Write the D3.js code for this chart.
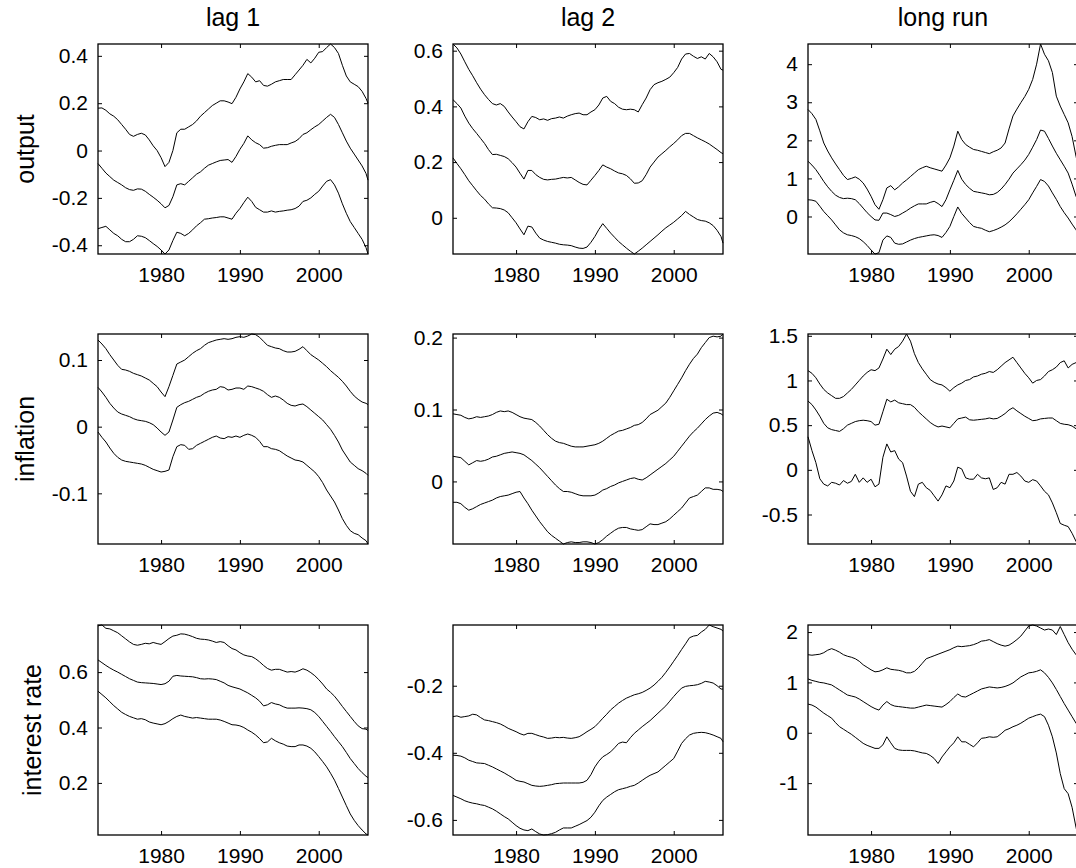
<!DOCTYPE html>
<html>
<head>
<meta charset="utf-8">
<script src="https://cdn.jsdelivr.net/npm/d3@7"></script>
<style>
  body { margin: 0; background: #fff; }
  svg { display: block; font-family: "Liberation Sans", Arial, sans-serif; }
</style>
</head>
<body>
<svg id="chart" width="1076" height="868"></svg>
<script>
// panel names
var rowNames = ["output", "inflation", "interest rate"];
var colNames = ["lag 1", "lag 2", "long run"];

// half-year grid, last point 2006Q2
var dates = d3.range(1972, 2006.5, 0.5).concat([2006.25]);
var xTicks = [1980, 1990, 2000];

// tick labels of each panel (row by row)
var yTicks = [
  [[-0.4, -0.2, 0, 0.2, 0.4], [0, 0.2, 0.4, 0.6], [0, 1, 2, 3, 4]],
  [[-0.1, 0, 0.1], [0, 0.1, 0.2], [-0.5, 0, 0.5, 1, 1.5]],
  [[0.2, 0.4, 0.6], [-0.6, -0.4, -0.2], [-1, 0, 1, 2]]
];

// output, lag 1
var outLag1Up = [0.179, 0.18, 0.17, 0.155, 0.145, 0.13, 0.11, 0.09, 0.068, 0.06,
  0.068, 0.073, 0.066, 0.045, 0.02, 0.0, -0.03, -0.068, -0.05, 0.0,
  0.075, 0.09, 0.09, 0.1, 0.11, 0.125, 0.145, 0.16, 0.175, 0.19,
  0.2, 0.21, 0.21, 0.205, 0.198, 0.225, 0.26, 0.29, 0.325, 0.31,
  0.29, 0.295, 0.275, 0.272, 0.28, 0.29, 0.295, 0.3, 0.3, 0.3,
  0.32, 0.34, 0.36, 0.385, 0.37, 0.39, 0.415, 0.418, 0.435, 0.45,
  0.435, 0.41, 0.36, 0.315, 0.29, 0.28, 0.27, 0.25, 0.22, 0.2];
var outLag1Mid = [-0.055, -0.075, -0.095, -0.11, -0.125, -0.135, -0.145, -0.157, -0.165, -0.168,
  -0.162, -0.163, -0.172, -0.185, -0.197, -0.21, -0.225, -0.242, -0.232, -0.195,
  -0.145, -0.14, -0.145, -0.13, -0.115, -0.1, -0.09, -0.075, -0.062, -0.055,
  -0.048, -0.042, -0.04, -0.038, -0.05, -0.025, 0.005, 0.03, 0.062, 0.045,
  0.033, 0.025, 0.01, 0.012, 0.018, 0.022, 0.025, 0.025, 0.025, 0.032,
  0.038, 0.05, 0.068, 0.075, 0.088, 0.1, 0.11, 0.125, 0.14, 0.153,
  0.14, 0.11, 0.075, 0.04, 0.01, -0.015, -0.04, -0.065, -0.097, -0.125];
var outLag1Low = [-0.33, -0.325, -0.32, -0.335, -0.35, -0.36, -0.375, -0.385, -0.385, -0.375,
  -0.36, -0.362, -0.368, -0.38, -0.393, -0.405, -0.42, -0.437, -0.42, -0.38,
  -0.345, -0.35, -0.36, -0.35, -0.335, -0.318, -0.305, -0.29, -0.288, -0.285,
  -0.283, -0.28, -0.28, -0.285, -0.29, -0.265, -0.245, -0.22, -0.197, -0.215,
  -0.24, -0.25, -0.26, -0.26, -0.255, -0.26, -0.257, -0.255, -0.252, -0.25,
  -0.245, -0.235, -0.215, -0.21, -0.2, -0.185, -0.172, -0.15, -0.13, -0.123,
  -0.145, -0.18, -0.225, -0.265, -0.3, -0.325, -0.35, -0.375, -0.41, -0.437];

// output, lag 2
var outLag2Up = [0.624, 0.61, 0.588, 0.56, 0.533, 0.51, 0.485, 0.462, 0.442, 0.425,
  0.41, 0.405, 0.41, 0.4, 0.38, 0.362, 0.345, 0.327, 0.319, 0.345,
  0.364, 0.36, 0.352, 0.355, 0.35, 0.356, 0.358, 0.362, 0.358, 0.365,
  0.37, 0.374, 0.376, 0.37, 0.37, 0.38, 0.388, 0.405, 0.43, 0.436,
  0.418, 0.41, 0.397, 0.39, 0.388, 0.39, 0.388, 0.38, 0.406, 0.43,
  0.46, 0.478, 0.485, 0.49, 0.497, 0.505, 0.521, 0.54, 0.57, 0.588,
  0.59, 0.58, 0.572, 0.578, 0.57, 0.59, 0.578, 0.56, 0.533, 0.53];
var outLag2Mid = [0.424, 0.41, 0.394, 0.365, 0.34, 0.32, 0.303, 0.285, 0.267, 0.245,
  0.227, 0.228, 0.224, 0.22, 0.212, 0.198, 0.182, 0.16, 0.139, 0.17,
  0.17, 0.155, 0.145, 0.138, 0.136, 0.138, 0.139, 0.142, 0.145, 0.143,
  0.145, 0.136, 0.127, 0.12, 0.118, 0.135, 0.152, 0.17, 0.19, 0.182,
  0.176, 0.168, 0.161, 0.158, 0.152, 0.14, 0.124, 0.125, 0.133, 0.155,
  0.182, 0.2, 0.218, 0.23, 0.242, 0.255, 0.267, 0.28, 0.295, 0.303,
  0.303, 0.295, 0.287, 0.28, 0.273, 0.265, 0.255, 0.245, 0.234, 0.23];
var outLag2Low = [0.215, 0.195, 0.176, 0.155, 0.133, 0.115, 0.097, 0.08, 0.067, 0.05,
  0.036, 0.035, 0.033, 0.028, 0.018, 0.0, -0.018, -0.04, -0.061, -0.03,
  -0.033, -0.055, -0.073, -0.08, -0.085, -0.088, -0.091, -0.095, -0.097, -0.098,
  -0.1, -0.105, -0.109, -0.11, -0.105, -0.088, -0.067, -0.042, -0.021, -0.038,
  -0.055, -0.07, -0.085, -0.097, -0.109, -0.12, -0.13, -0.12, -0.109, -0.097,
  -0.085, -0.073, -0.061, -0.048, -0.036, -0.026, -0.016, -0.004, 0.008, 0.023,
  0.012, 0.003, -0.006, -0.01, -0.012, -0.018, -0.028, -0.045, -0.067, -0.091];

// output, long run
var outLongUp = [2.81, 2.7, 2.55, 2.25, 1.93, 1.72, 1.54, 1.38, 1.23, 1.08,
  0.97, 1.0, 1.04, 0.98, 0.88, 0.72, 0.53, 0.31, 0.19, 0.44,
  0.75, 0.81, 0.70, 0.78, 0.88, 0.96, 1.05, 1.14, 1.23, 1.28,
  1.32, 1.28, 1.25, 1.22, 1.19, 1.35, 1.54, 1.85, 2.24, 2.02,
  1.89, 1.82, 1.76, 1.74, 1.71, 1.68, 1.65, 1.7, 1.74, 1.8,
  1.93, 2.3, 2.64, 2.82, 2.99, 3.15, 3.34, 3.6, 4.0, 4.53,
  4.26, 4.09, 3.78, 3.16, 2.9, 2.68, 2.46, 2.1, 1.58, 1.36];
var outLongMid = [1.45, 1.35, 1.23, 1.08, 0.92, 0.78, 0.66, 0.56, 0.5, 0.47,
  0.48, 0.47, 0.44, 0.34, 0.22, 0.1, 0.0, -0.09, -0.1, 0.09,
  0.09, 0.05, 0.0, 0.03, 0.09, 0.15, 0.22, 0.28, 0.33, 0.33,
  0.33, 0.37, 0.4, 0.34, 0.26, 0.44, 0.7, 0.95, 1.21, 0.98,
  0.84, 0.74, 0.66, 0.64, 0.62, 0.6, 0.57, 0.58, 0.63, 0.72,
  0.84, 0.98, 1.14, 1.25, 1.36, 1.48, 1.63, 1.82, 2.02, 2.27,
  2.24, 2.05, 1.85, 1.66, 1.49, 1.32, 1.14, 0.85, 0.53, 0.44];
var outLongLow = [0.44, 0.43, 0.4, 0.27, 0.13, 0.02, -0.09, -0.22, -0.35, -0.43,
  -0.48, -0.5, -0.53, -0.58, -0.66, -0.76, -0.88, -0.985, -0.95, -0.62,
  -0.51, -0.55, -0.7, -0.73, -0.72, -0.67, -0.62, -0.58, -0.55, -0.53,
  -0.51, -0.49, -0.48, -0.5, -0.55, -0.42, -0.26, 0.0, 0.25, 0.08,
  -0.04, -0.16, -0.26, -0.29, -0.31, -0.36, -0.4, -0.37, -0.33, -0.28,
  -0.22, -0.14, -0.04, 0.07, 0.19, 0.31, 0.44, 0.62, 0.79, 0.97,
  0.92, 0.8, 0.62, 0.45, 0.26, 0.1, -0.04, -0.2, -0.35, -0.44];

// inflation, lag 1
var infLag1Up = [0.13, 0.124, 0.117, 0.108, 0.1, 0.092, 0.086, 0.085, 0.083, 0.08,
  0.078, 0.076, 0.073, 0.07, 0.065, 0.06, 0.052, 0.045, 0.06, 0.077,
  0.094, 0.097, 0.1, 0.105, 0.11, 0.114, 0.117, 0.122, 0.126, 0.128,
  0.13, 0.131, 0.132, 0.131, 0.132, 0.134, 0.135, 0.134, 0.136, 0.139,
  0.138, 0.134, 0.128, 0.122, 0.12, 0.118, 0.117, 0.114, 0.112, 0.112,
  0.113, 0.116, 0.12, 0.114, 0.108, 0.104, 0.1, 0.095, 0.09, 0.084,
  0.079, 0.074, 0.068, 0.061, 0.053, 0.046, 0.041, 0.037, 0.035, 0.033];
var infLag1Mid = [0.059, 0.052, 0.044, 0.035, 0.028, 0.022, 0.019, 0.017, 0.015, 0.012,
  0.01, 0.009, 0.008, 0.006, 0.003, -0.002, -0.008, -0.013, -0.008, 0.01,
  0.029, 0.033, 0.036, 0.038, 0.041, 0.044, 0.046, 0.05, 0.053, 0.055,
  0.056, 0.06, 0.059, 0.055, 0.056, 0.058, 0.058, 0.056, 0.061, 0.06,
  0.058, 0.056, 0.053, 0.048, 0.044, 0.046, 0.044, 0.04, 0.035, 0.032,
  0.031, 0.033, 0.034, 0.03, 0.025, 0.02, 0.015, 0.01, 0.003, -0.004,
  -0.013, -0.023, -0.035, -0.044, -0.053, -0.058, -0.063, -0.066, -0.07, -0.073];
var infLag1Low = [-0.008, -0.016, -0.023, -0.032, -0.04, -0.046, -0.05, -0.052, -0.053, -0.054,
  -0.055, -0.056, -0.058, -0.061, -0.064, -0.066, -0.068, -0.067, -0.065, -0.045,
  -0.03, -0.027, -0.028, -0.034, -0.033, -0.028, -0.025, -0.022, -0.019, -0.016,
  -0.014, -0.017, -0.018, -0.015, -0.016, -0.014, -0.016, -0.013, -0.011, -0.013,
  -0.016, -0.022, -0.03, -0.03, -0.033, -0.034, -0.036, -0.04, -0.044, -0.047,
  -0.05, -0.051, -0.053, -0.058, -0.063, -0.068, -0.075, -0.084, -0.095, -0.104,
  -0.113, -0.125, -0.138, -0.148, -0.156, -0.16, -0.162, -0.167, -0.171, -0.176];

// inflation, lag 2
var infLag2Up = [0.094, 0.093, 0.092, 0.089, 0.087, 0.088, 0.09, 0.089, 0.09, 0.091,
  0.093, 0.096, 0.098, 0.097, 0.098, 0.096, 0.093, 0.09, 0.088, 0.087,
  0.086, 0.082, 0.077, 0.071, 0.065, 0.06, 0.056, 0.054, 0.053, 0.051,
  0.049, 0.048, 0.048, 0.048, 0.049, 0.05, 0.051, 0.053, 0.056, 0.06,
  0.064, 0.067, 0.07, 0.071, 0.073, 0.075, 0.078, 0.079, 0.082, 0.087,
  0.093, 0.096, 0.099, 0.104, 0.109, 0.117, 0.126, 0.135, 0.144, 0.154,
  0.163, 0.171, 0.177, 0.186, 0.193, 0.2, 0.202, 0.201, 0.202, 0.205];
var infLag2Mid = [0.035, 0.034, 0.033, 0.028, 0.023, 0.026, 0.029, 0.028, 0.029, 0.031,
  0.034, 0.035, 0.037, 0.039, 0.04, 0.041, 0.04, 0.039, 0.037, 0.033,
  0.029, 0.024, 0.019, 0.013, 0.007, 0.001, -0.005, -0.01, -0.014, -0.014,
  -0.015, -0.017, -0.019, -0.02, -0.02, -0.02, -0.019, -0.016, -0.012, -0.01,
  -0.007, -0.005, -0.002, 0.0, 0.002, 0.004, 0.005, 0.003, 0.002, 0.005,
  0.009, 0.013, 0.017, 0.021, 0.025, 0.03, 0.035, 0.042, 0.049, 0.056,
  0.063, 0.069, 0.074, 0.08, 0.086, 0.091, 0.095, 0.096, 0.094, 0.092];
var infLag2Low = [-0.029, -0.029, -0.031, -0.036, -0.04, -0.038, -0.035, -0.032, -0.03, -0.028,
  -0.026, -0.023, -0.021, -0.02, -0.019, -0.017, -0.015, -0.014, -0.023, -0.031,
  -0.04, -0.048, -0.056, -0.063, -0.07, -0.075, -0.079, -0.083, -0.087, -0.085,
  -0.084, -0.085, -0.085, -0.084, -0.084, -0.085, -0.087, -0.085, -0.081, -0.076,
  -0.072, -0.068, -0.065, -0.064, -0.064, -0.066, -0.067, -0.068, -0.067, -0.063,
  -0.059, -0.06, -0.06, -0.058, -0.056, -0.052, -0.047, -0.042, -0.037, -0.03,
  -0.023, -0.021, -0.019, -0.014, -0.009, -0.009, -0.011, -0.011, -0.012, -0.014];

// inflation, long run
var infLongUp = [1.11, 1.08, 1.03, 0.96, 0.9, 0.86, 0.83, 0.8, 0.8, 0.82,
  0.86, 0.9, 0.95, 1.0, 1.05, 1.09, 1.12, 1.11, 1.14, 1.24,
  1.35, 1.29, 1.35, 1.38, 1.44, 1.52, 1.44, 1.3, 1.2, 1.13,
  1.07, 1.01, 0.98, 0.96, 0.95, 0.92, 0.88, 0.92, 0.95, 0.97,
  1.0, 1.01, 1.04, 1.05, 1.07, 1.08, 1.1, 1.09, 1.12, 1.16,
  1.2, 1.23, 1.26, 1.2, 1.14, 1.08, 1.03, 0.97, 1.0, 1.01,
  1.05, 1.1, 1.12, 1.15, 1.2, 1.22, 1.14, 1.18, 1.2, 1.2];
var infLongMid = [0.77, 0.73, 0.67, 0.6, 0.52, 0.47, 0.45, 0.44, 0.43, 0.46,
  0.5, 0.52, 0.54, 0.55, 0.555, 0.55, 0.54, 0.5, 0.51, 0.65,
  0.79, 0.76, 0.78, 0.75, 0.74, 0.73, 0.73, 0.7, 0.65, 0.61,
  0.57, 0.53, 0.5, 0.48, 0.49, 0.48, 0.47, 0.52, 0.57, 0.58,
  0.59, 0.56, 0.555, 0.56, 0.565, 0.57, 0.58, 0.57, 0.575, 0.6,
  0.63, 0.67, 0.695, 0.66, 0.63, 0.6, 0.575, 0.55, 0.555, 0.57,
  0.575, 0.58, 0.58, 0.55, 0.52, 0.51, 0.505, 0.49, 0.46, 0.45];
var infLongLow = [0.37, 0.215, 0.08, -0.1, -0.16, -0.18, -0.14, -0.15, -0.17, -0.12,
  -0.15, -0.13, -0.05, -0.14, -0.09, -0.14, -0.105, -0.19, -0.16, 0.14,
  0.29, 0.2, 0.215, 0.12, 0.08, -0.07, -0.24, -0.3, -0.16, -0.14,
  -0.2, -0.23, -0.29, -0.35, -0.28, -0.18, -0.2, -0.125, 0.03, 0.01,
  -0.09, -0.105, -0.105, -0.05, -0.09, -0.1, -0.09, -0.22, -0.2, -0.14,
  -0.16, -0.05, -0.05, -0.03, -0.07, -0.125, -0.14, -0.11, -0.125, -0.18,
  -0.24, -0.28, -0.37, -0.48, -0.6, -0.62, -0.635, -0.71, -0.8, -0.83];

// interest rate, lag 1
var intLag1Up = [0.767, 0.77, 0.758, 0.756, 0.749, 0.742, 0.731, 0.72, 0.709, 0.7,
  0.697, 0.7, 0.704, 0.702, 0.707, 0.703, 0.7, 0.71, 0.721, 0.73,
  0.733, 0.738, 0.737, 0.733, 0.728, 0.722, 0.719, 0.718, 0.716, 0.712,
  0.707, 0.71, 0.707, 0.695, 0.685, 0.68, 0.67, 0.662, 0.658, 0.656,
  0.648, 0.637, 0.624, 0.613, 0.607, 0.61, 0.61, 0.605, 0.6, 0.602,
  0.6, 0.605, 0.612, 0.607, 0.598, 0.587, 0.573, 0.557, 0.539, 0.527,
  0.513, 0.495, 0.476, 0.458, 0.44, 0.422, 0.406, 0.396, 0.394, 0.389];
var intLag1Mid = [0.644, 0.634, 0.624, 0.615, 0.607, 0.6, 0.592, 0.584, 0.576, 0.57,
  0.564, 0.562, 0.561, 0.56, 0.559, 0.557, 0.555, 0.558, 0.567, 0.585,
  0.588, 0.586, 0.585, 0.584, 0.583, 0.58, 0.576, 0.575, 0.576, 0.575,
  0.573, 0.567, 0.561, 0.552, 0.547, 0.543, 0.539, 0.532, 0.525, 0.516,
  0.507, 0.495, 0.478, 0.482, 0.49, 0.485, 0.482, 0.475, 0.47, 0.47,
  0.47, 0.471, 0.47, 0.468, 0.464, 0.454, 0.44, 0.422, 0.404, 0.386,
  0.367, 0.349, 0.331, 0.31, 0.288, 0.27, 0.252, 0.237, 0.224, 0.219];
var intLag1Low = [0.531, 0.519, 0.507, 0.493, 0.479, 0.467, 0.455, 0.447, 0.44, 0.435,
  0.43, 0.432, 0.428, 0.42, 0.416, 0.413, 0.41, 0.414, 0.422, 0.432,
  0.44, 0.445, 0.44, 0.437, 0.434, 0.436, 0.434, 0.432, 0.43, 0.43,
  0.43, 0.427, 0.422, 0.416, 0.41, 0.409, 0.406, 0.4, 0.391, 0.383,
  0.373, 0.36, 0.345, 0.348, 0.361, 0.352, 0.345, 0.34, 0.333, 0.331,
  0.331, 0.337, 0.337, 0.333, 0.325, 0.312, 0.295, 0.277, 0.258, 0.235,
  0.21, 0.18, 0.149, 0.118, 0.088, 0.065, 0.046, 0.03, 0.016, 0.012];

// interest rate, lag 2
var intLag2Up = [-0.292, -0.29, -0.294, -0.292, -0.29, -0.285, -0.287, -0.295, -0.302, -0.304,
  -0.307, -0.31, -0.314, -0.32, -0.327, -0.332, -0.337, -0.343, -0.347, -0.342,
  -0.342, -0.346, -0.35, -0.353, -0.357, -0.356, -0.354, -0.355, -0.354, -0.356,
  -0.357, -0.355, -0.352, -0.345, -0.337, -0.33, -0.322, -0.31, -0.297, -0.285,
  -0.272, -0.262, -0.252, -0.244, -0.237, -0.232, -0.227, -0.224, -0.22, -0.214,
  -0.207, -0.198, -0.187, -0.175, -0.16, -0.144, -0.127, -0.11, -0.092, -0.075,
  -0.057, -0.052, -0.05, -0.04, -0.032, -0.019, -0.024, -0.028, -0.032, -0.037];
var intLag2Mid = [-0.407, -0.408, -0.41, -0.415, -0.422, -0.426, -0.43, -0.431, -0.432, -0.437,
  -0.442, -0.448, -0.454, -0.46, -0.467, -0.474, -0.482, -0.485, -0.487, -0.492,
  -0.497, -0.499, -0.5, -0.499, -0.497, -0.495, -0.492, -0.491, -0.49, -0.49,
  -0.49, -0.49, -0.49, -0.488, -0.482, -0.465, -0.442, -0.425, -0.412, -0.405,
  -0.397, -0.385, -0.372, -0.368, -0.37, -0.355, -0.342, -0.332, -0.322, -0.313,
  -0.304, -0.293, -0.282, -0.271, -0.26, -0.246, -0.232, -0.219, -0.207, -0.202,
  -0.2, -0.199, -0.197, -0.193, -0.187, -0.189, -0.192, -0.2, -0.21, -0.21];
var intLag2Low = [-0.527, -0.532, -0.537, -0.543, -0.547, -0.55, -0.552, -0.555, -0.557, -0.562,
  -0.567, -0.574, -0.582, -0.59, -0.597, -0.607, -0.617, -0.625, -0.63, -0.632,
  -0.627, -0.635, -0.642, -0.645, -0.644, -0.641, -0.637, -0.63, -0.624, -0.624,
  -0.624, -0.619, -0.614, -0.608, -0.602, -0.592, -0.577, -0.558, -0.542, -0.532,
  -0.524, -0.516, -0.51, -0.507, -0.504, -0.5, -0.497, -0.49, -0.482, -0.474,
  -0.467, -0.462, -0.457, -0.447, -0.437, -0.427, -0.417, -0.395, -0.372, -0.358,
  -0.347, -0.342, -0.34, -0.339, -0.34, -0.343, -0.347, -0.352, -0.357, -0.367];

// interest rate, long run
var intLongUp = [1.55, 1.54, 1.55, 1.56, 1.59, 1.64, 1.67, 1.64, 1.6, 1.55,
  1.52, 1.5, 1.47, 1.42, 1.35, 1.3, 1.25, 1.21, 1.22, 1.25,
  1.29, 1.26, 1.25, 1.24, 1.22, 1.19, 1.19, 1.22, 1.29, 1.38,
  1.47, 1.5, 1.53, 1.56, 1.59, 1.62, 1.65, 1.69, 1.72, 1.71,
  1.72, 1.73, 1.75, 1.78, 1.82, 1.83, 1.85, 1.81, 1.77, 1.74,
  1.72, 1.74, 1.79, 1.85, 1.92, 2.02, 2.12, 2.14, 2.12, 2.08,
  2.04, 2.06, 2.04, 1.95, 2.11, 1.95, 1.79, 1.66, 1.55, 1.49];
var intLongMid = [1.07, 1.04, 1.02, 1.0, 0.99, 0.97, 0.95, 0.9, 0.85, 0.8,
  0.75, 0.73, 0.71, 0.67, 0.62, 0.57, 0.52, 0.48, 0.45, 0.55,
  0.62, 0.56, 0.53, 0.52, 0.51, 0.5, 0.49, 0.49, 0.51, 0.53,
  0.55, 0.54, 0.53, 0.52, 0.51, 0.56, 0.62, 0.7, 0.77, 0.72,
  0.71, 0.75, 0.79, 0.83, 0.87, 0.89, 0.91, 0.9, 0.89, 0.9,
  0.92, 0.95, 0.99, 1.05, 1.11, 1.15, 1.19, 1.2, 1.22, 1.25,
  1.19, 1.1, 0.99, 0.86, 0.72, 0.58, 0.45, 0.32, 0.19, 0.15];
var intLongLow = [0.57, 0.55, 0.51, 0.45, 0.39, 0.34, 0.29, 0.2, 0.12, 0.07,
  0.02, -0.03, -0.09, -0.15, -0.21, -0.25, -0.28, -0.31, -0.31, -0.24,
  -0.08, -0.2, -0.31, -0.34, -0.35, -0.35, -0.35, -0.36, -0.38, -0.4,
  -0.41, -0.45, -0.51, -0.61, -0.48, -0.38, -0.28, -0.2, -0.08, -0.18,
  -0.18, -0.23, -0.28, -0.2, -0.11, -0.1, -0.08, -0.09, -0.08, -0.02,
  0.05, 0.08, 0.12, 0.15, 0.19, 0.24, 0.29, 0.32, 0.35, 0.37,
  0.32, 0.15, -0.08, -0.4, -0.81, -1.11, -1.21, -1.48, -1.88, -2.03];

var panels = [
  [[outLag1Up, outLag1Mid, outLag1Low], [outLag2Up, outLag2Mid, outLag2Low], [outLongUp, outLongMid, outLongLow]],
  [[infLag1Up, infLag1Mid, infLag1Low], [infLag2Up, infLag2Mid, infLag2Low], [infLongUp, infLongMid, infLongLow]],
  [[intLag1Up, intLag1Mid, intLag1Low], [intLag2Up, intLag2Mid, intLag2Low], [intLongUp, intLongMid, intLongLow]]
];

// layout of the 3x3 grid
var boxW = 270, boxH = 210;
var lefts = [98, 453, 808];
var tops = [44, 334, 625];
var tickFont = 21, labelFont = 25;

var svg = d3.select("#chart");

function fmt(d) { return String(+d.toFixed(2)); }

panels.forEach(function(row, r) {
  row.forEach(function(series, c) {
    var g = svg.append("g")
      .attr("transform", "translate(" + lefts[c] + "," + tops[r] + ")");

    var x = d3.scaleLinear()
      .domain(d3.extent(dates))
      .range([0, boxW]);

    // axis tight, like the original
    var y = d3.scaleLinear()
      .domain([d3.min(series, function(s) { return d3.min(s); }),
               d3.max(series, function(s) { return d3.max(s); })])
      .range([boxH, 0]);

    var line = d3.line()
      .x(function(d, i) { return x(dates[i]); })
      .y(function(d) { return y(d); });

    g.selectAll("path.band")
      .data(series)
      .enter()
      .append("path")
      .attr("class", "band")
      .attr("d", line)
      .attr("fill", "none")
      .attr("stroke", "#000")
      .attr("stroke-width", 1);

    var yAxis = g.append("g")
      .call(d3.axisLeft(y).tickValues(yTicks[r][c]).tickSize(-4).tickPadding(10).tickFormat(fmt));
    g.append("g")
      .attr("transform", "translate(" + boxW + ",0)")
      .call(d3.axisRight(y).tickValues(yTicks[r][c]).tickSize(-4).tickFormat(""));
    g.append("g")
      .attr("transform", "translate(0," + boxH + ")")
      .call(d3.axisBottom(x).tickValues(xTicks).tickSize(-4).tickPadding(13).tickFormat(d3.format("d")));
    g.append("g")
      .call(d3.axisTop(x).tickValues(xTicks).tickSize(-4).tickFormat(""));

    g.selectAll(".domain").remove();
    g.selectAll(".tick line").attr("stroke", "#000").attr("stroke-width", 1);
    g.selectAll(".tick text")
      .attr("fill", "#000")
      .attr("font-size", tickFont)
      .attr("font-family", "'Liberation Sans', Arial, sans-serif");

    g.append("rect")
      .attr("width", boxW)
      .attr("height", boxH)
      .attr("fill", "none")
      .attr("stroke", "#000")
      .attr("stroke-width", 1.3);

    if (r == 0) {
      g.append("text")
        .attr("x", boxW / 2)
        .attr("y", -18)
        .attr("text-anchor", "middle")
        .style("font-size", labelFont + "px")
        .text(colNames[c]);
    }

    if (c == 0) {
      var w = yAxis.node().getBBox().width;
      var lx = -w - 14;
      g.append("text")
        .attr("transform", "translate(" + lx + "," + (boxH / 2) + ") rotate(-90)")
        .attr("text-anchor", "middle")
        .style("font-size", labelFont + "px")
        .text(rowNames[r]);
    }
  });
});
</script>
</body>
</html>
